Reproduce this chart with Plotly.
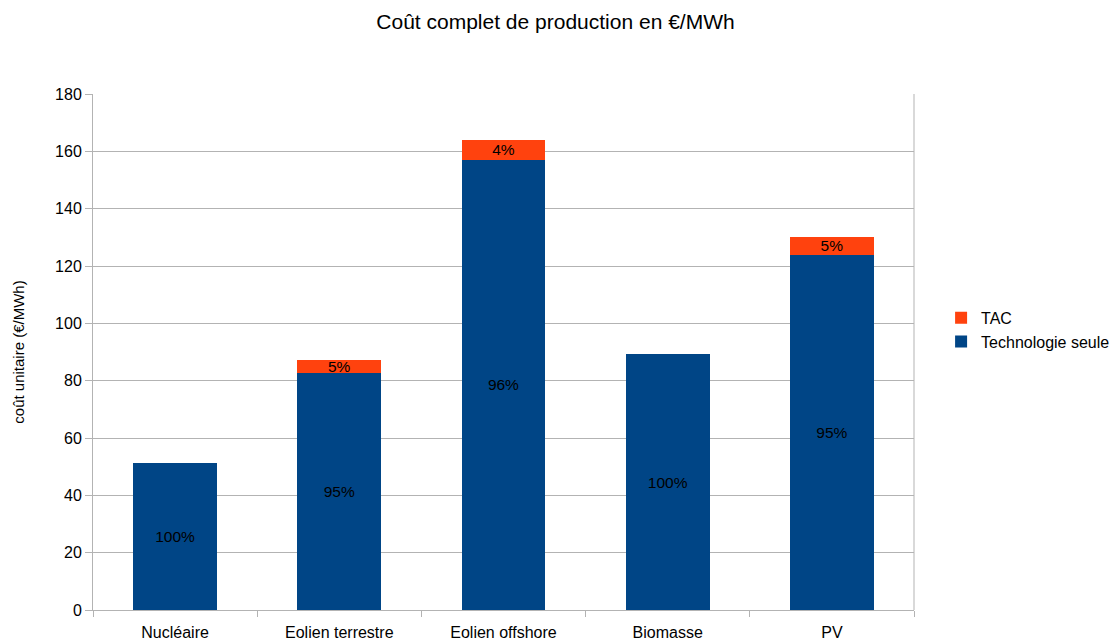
import plotly.graph_objects as go

categories = ["Nucléaire", "Eolien terrestre", "Eolien offshore", "Biomasse", "PV"]
techno = [51.2, 82.8, 157.1, 89.2, 124.0]
tac = [0, 4.5, 7.0, 0, 6.1]
techno_labels = ["100%", "95%", "96%", "100%", "95%"]
tac_labels = ["", "5%", "4%", "", "5%"]

font_family = "Liberation Sans, Arial, sans-serif"

fig = go.Figure()
fig.add_trace(go.Bar(
    x=categories, y=techno, name="Technologie seule",
    marker=dict(color="#004586", line=dict(width=0)),
    text=techno_labels, textposition="inside", insidetextanchor="middle",
    textangle=0, constraintext="none",
    textfont=dict(color="#000000", size=15.5, family=font_family),
))
fig.add_trace(go.Bar(
    x=categories, y=tac, name="TAC",
    marker=dict(color="#ff420e", line=dict(width=0)),
    text=tac_labels, textposition="inside", insidetextanchor="middle",
    textangle=0, constraintext="none",
    textfont=dict(color="#000000", size=15.5, family=font_family),
))

W, H = 1150, 660
fig.update_layout(
    barmode="stack",
    bargap=0.49,
    width=W, height=H,
    margin=dict(l=85, r=W + 8 - 914, t=86, b=H + 8 - 610),
    paper_bgcolor="white", plot_bgcolor="white",
    font=dict(family=font_family, size=16, color="#000000"),
    title=dict(text="Coût complet de production en €/MWh",
               x=(555.5 - 8) / W, xref="container", xanchor="center",
               y=1 - 14 / H, yref="container", yanchor="middle",
               font=dict(size=21, family=font_family, color="#000000")),
    legend=dict(x=1.033, y=0.543, xanchor="left", yanchor="middle",
                traceorder="reversed", font=dict(size=16, family=font_family),
                itemwidth=30, tracegroupgap=0),
    showlegend=True,
)
fig.update_xaxes(
    showline=True, linecolor="#b3b3b3", linewidth=1,
    ticks="outside", ticklen=6, tickcolor="#b3b3b3", tickson="boundaries",
    tickfont=dict(size=16), mirror=False, ticklabelstandoff=8,
)
fig.update_yaxes(
    range=[0, 180], dtick=20, showgrid=True, gridcolor="#b3b3b3", gridwidth=1,
    showline=True, linecolor="#b3b3b3", linewidth=1,
    ticks="outside", ticklen=7, tickcolor="#b3b3b3",
    tickfont=dict(size=16), zeroline=False,
    title=dict(text="coût unitaire (€/MWh)", font=dict(size=15), standoff=26),
)
fig.add_shape(type="line", xref="paper", yref="paper", x0=1, x1=1, y0=0, y1=1,
              line=dict(color="#b3b3b3", width=1))

fig.write_html("out.html")
